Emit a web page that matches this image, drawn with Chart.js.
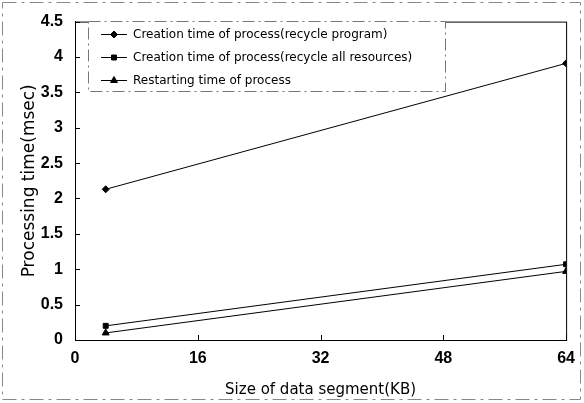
<!DOCTYPE html>
<html>
<head>
<meta charset="utf-8">
<script src="https://cdn.jsdelivr.net/npm/chart.js@4/dist/chart.umd.min.js"></script>
<style>
  body { margin: 0; background: #fff; }
  #wrap { width: 584px; height: 403px; position: relative; }
</style>
</head>
<body>
<div id="wrap"><canvas id="myChart" width="584" height="403"></canvas></div>
<script>
const sizes = [4, 64]
const recycleProgram = [2.13, 3.91]
const recycleAll = [0.2, 1.07]
const restarting = [0.1, 0.97]
const seriesNames = [
  "Creation time of process(recycle program)",
  "Creation time of process(recycle all resources)",
  "Restarting time of process"
]
const xTicks = [0, 16, 32, 48, 64]

function pts(vals) {
  return sizes.map((x, i) => ({ x: x, y: vals[i] }))
}

// frame, inward ticks, outer dashed border and the legend box
const extras = {
  id: "extras",
  afterDraw(chart) {
    const c = chart.ctx
    const a = chart.chartArea
    const xs = chart.scales.x
    const ys = chart.scales.y
    c.save()
    // outer dashed border
    c.strokeStyle = "#888"
    c.lineWidth = 1
    c.setLineDash([14, 5, 3, 5])
    c.strokeRect(2.5, 2.5, 578, 397)
    c.setLineDash([])
    // plot frame
    c.strokeStyle = "#000"
    c.strokeRect(a.left + 0.5, a.top + 0.5, a.right - a.left, a.bottom - a.top)
    // inward ticks
    c.beginPath()
    xs.ticks.forEach(t => {
      const px = Math.round(xs.getPixelForValue(t.value)) + 0.5
      c.moveTo(px, a.bottom)
      c.lineTo(px, a.bottom - 5)
    })
    ys.ticks.forEach(t => {
      const py = Math.round(ys.getPixelForValue(t.value)) + 0.5
      c.moveTo(a.left, py)
      c.lineTo(a.left + 5, py)
    })
    c.stroke()
    // legend
    const lx = 88, ly = 21, lw = 357, lh = 70
    c.fillStyle = "#fff"
    c.fillRect(lx, ly, lw, lh)
    c.strokeStyle = "#777"
    c.setLineDash([12, 4, 2, 4])
    c.strokeRect(lx + 0.5, ly + 0.5, lw, lh)
    c.setLineDash([])
    const rows = [34, 57, 80]
    chart.data.datasets.forEach((ds, i) => {
      const y = rows[i] + 0.5
      c.strokeStyle = "#000"
      c.fillStyle = "#000"
      c.beginPath()
      c.moveTo(101, y)
      c.lineTo(127, y)
      c.stroke()
      Chart.helpers.drawPoint(c, {
        pointStyle: ds.pointStyle, radius: ds.pointRadius, rotation: 0, borderWidth: 1
      }, 114, y)
      c.fillStyle = "#000"
      c.font = "12px 'DejaVu Sans', sans-serif"
      c.textBaseline = "middle"
      c.fillText(ds.label, 133, y)
    })
    c.restore()
  }
}

const ctx = document.getElementById("myChart")
const mk = (label, vals, style, r) => ({
  label: label,
  data: pts(vals),
  showLine: true,
  borderColor: "#000",
  backgroundColor: "#000",
  borderWidth: 1,
  pointStyle: style,
  pointRadius: r,
  pointHoverRadius: r,
  pointBackgroundColor: "#000",
  pointBorderColor: "#000"
})

const tickFont = { family: "'Liberation Sans', sans-serif", size: 16, weight: "bold" }

const myChart = new Chart(ctx, {
  type: "scatter",
  data: {
    datasets: [
      mk(seriesNames[0], recycleProgram, "rectRot", 3.5),
      mk(seriesNames[1], recycleAll, "rect", 3.5),
      mk(seriesNames[2], restarting, "triangle", 4)
    ]
  },
  options: {
    responsive: false,
    animation: false,
    layout: { padding: { left: 0, top: 17, right: 12, bottom: 0 } },
    plugins: { legend: { display: false }, tooltip: { enabled: false } },
    scales: {
      x: {
        type: "linear",
        min: 0,
        max: 64,
        afterBuildTicks: s => { s.ticks = xTicks.map(v => ({ value: v })) },
        afterFit: s => { s.height = 63 },
        grid: { display: false, drawTicks: false },
        border: { display: true, color: "#000" },
        ticks: { color: "#000", padding: 9, font: tickFont },
        title: {
          display: true, text: "Size of data segment(KB)", color: "#000",
          font: { family: "'DejaVu Sans', sans-serif", size: 15 }, padding: { top: 4 }
        }
      },
      y: {
        min: 0,
        max: 4.5,
        afterFit: s => { s.width = 75 },
        grid: { display: false, drawTicks: false },
        border: { display: true, color: "#000" },
        ticks: { stepSize: 0.5, color: "#000", padding: 12, font: tickFont, callback: v => String(v) },
        title: {
          display: true, text: "Processing time(msec)", color: "#000",
          font: { family: "'DejaVu Sans', sans-serif", size: 17 }, padding: { top: 19, bottom: 0 }
        }
      }
    }
  },
  plugins: [extras]
})
</script>
</body>
</html>
